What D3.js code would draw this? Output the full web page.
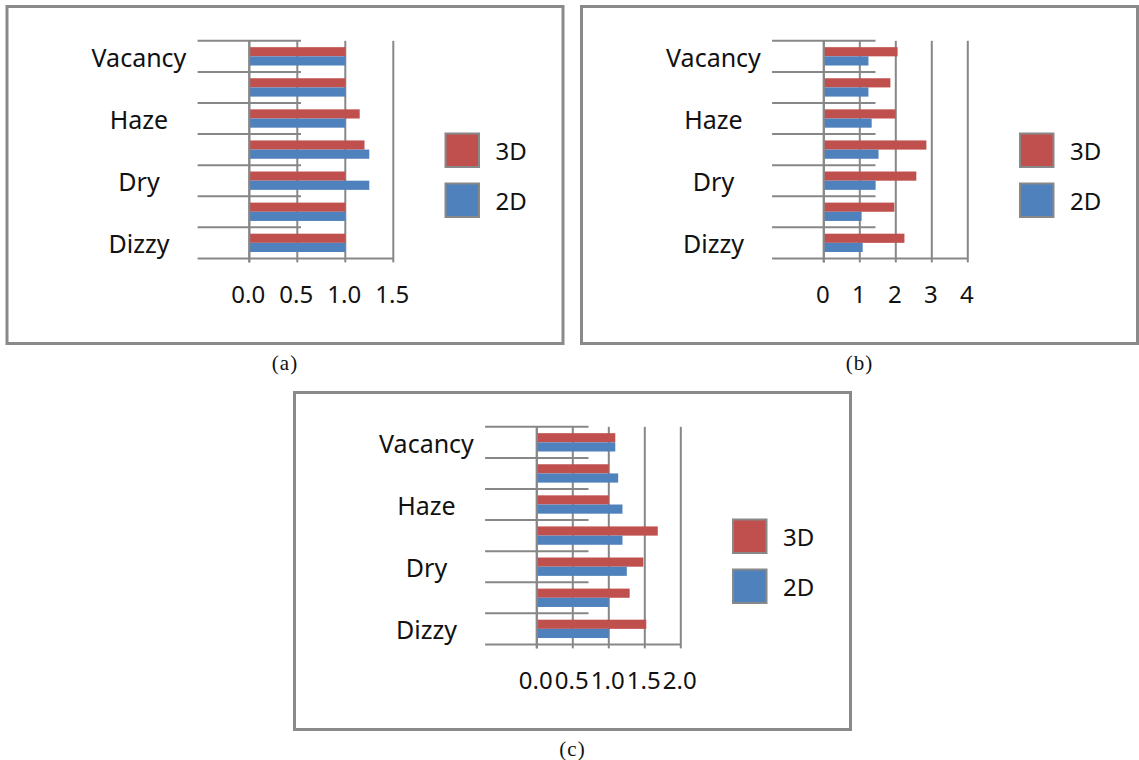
<!DOCTYPE html>
<html>
<head>
<meta charset="utf-8">
<script src="https://cdn.jsdelivr.net/npm/d3@7/dist/d3.min.js"></script>
<style>
  html, body { margin: 0; padding: 0; background: #fff; }
  svg { display: block; }
  text { font-family: "Noto Sans", "Open Sans", sans-serif; fill: #111; }
  .caption { font-family: "Liberation Serif", "DejaVu Serif", serif; }
</style>
</head>
<body>
<svg id="chart" width="1139" height="760"></svg>
<script>
// Categories listed bottom to top; only every second one carries a label
const categories = ["Dizzy", "Blur", "Dry", "Strain", "Haze", "Ache", "Vacancy"];
const seriesNames = ["3D", "2D"];
const seriesColors = ["#C0504D", "#4F81BD"];

// (a)
const a3D = [1.0, 1.0, 1.0, 1.2, 1.15, 1.0, 1.0];
const a2D = [1.0, 1.0, 1.25, 1.25, 1.0, 1.0, 1.0];
const aTicks = [0, 0.5, 1.0, 1.5];
const aTickLabels = ["0.0", "0.5", "1.0", "1.5"];

// (b)
const b3D = [2.24, 1.96, 2.57, 2.85, 1.99, 1.85, 2.05];
const b2D = [1.08, 1.05, 1.44, 1.52, 1.33, 1.24, 1.24];
const bTicks = [0, 1, 2, 3, 4];
const bTickLabels = ["0", "1", "2", "3", "4"];

// (c)
const c3D = [1.52, 1.29, 1.48, 1.68, 1.0, 1.0, 1.09];
const c2D = [1.0, 1.0, 1.25, 1.19, 1.19, 1.13, 1.09];
const cTicks = [0, 0.5, 1.0, 1.5, 2.0];
const cTickLabels = ["0.0", "0.5", "1.0", "1.5", "2.0"];

const panels = [
  { x: 7,     y: 6.5,   s3D: a3D, s2D: a2D, ticks: aTicks, tickLabels: aTickLabels, caption: "(a)" },
  { x: 581.5, y: 6.5,   s3D: b3D, s2D: b2D, ticks: bTicks, tickLabels: bTickLabels, caption: "(b)" },
  { x: 294.5, y: 392.5, s3D: c3D, s2D: c2D, ticks: cTicks, tickLabels: cTickLabels, caption: "(c)" }
];

const svg = d3.select("#chart");
const lineColor = "#878787";

// Layout of one panel, relative to its frame
const frameW = 556, frameH = 337;
const plotLeft = 242.3, plotTop = 34.3, plotW = 144, plotH = 217.6;
const tickReach = 51.7;

panels.forEach(p => {
  const g = svg.append("g").attr("transform", `translate(${p.x},${p.y})`);

  // frame
  g.append("rect")
    .attr("x", 0).attr("y", 0).attr("width", frameW).attr("height", frameH)
    .attr("fill", "#fff").attr("stroke", "#8a8a8a").attr("stroke-width", 3);

  const x = d3.scaleLinear()
    .domain([0, d3.max(p.ticks)])
    .range([plotLeft, plotLeft + plotW]);

  const y = d3.scaleBand()
    .domain(categories)
    .range([plotTop + plotH, plotTop])
    .paddingInner(0.41)
    .paddingOuter(0.205);

  const ySub = d3.scaleBand()
    .domain(seriesNames)
    .range([0, y.bandwidth()]);

  const step = y.step();
  const boundaries = d3.range(categories.length + 1).map(i => plotTop + plotH - i * step);

  // vertical value gridlines
  g.append("g").selectAll("line")
    .data(p.ticks)
    .join("line")
    .attr("x1", d => x(d)).attr("x2", d => x(d))
    .attr("y1", plotTop).attr("y2", plotTop + plotH + 4)
    .attr("stroke", lineColor).attr("stroke-width", 2);

  // category boundary tick lines
  g.append("g").selectAll("line")
    .data(boundaries.slice(1))
    .join("line")
    .attr("x1", x(0) - tickReach).attr("x2", x(0) + tickReach)
    .attr("y1", d => d).attr("y2", d => d)
    .attr("stroke", lineColor).attr("stroke-width", 2);

  // bars
  const rows = categories.map((c, i) => ({
    cat: c,
    vals: [{ s: "3D", v: p.s3D[i] }, { s: "2D", v: p.s2D[i] }]
  }));

  g.append("g").selectAll("g")
    .data(rows)
    .join("g")
    .attr("transform", d => `translate(0,${y(d.cat)})`)
    .selectAll("rect")
    .data(d => d.vals)
    .join("rect")
    .attr("x", x(0))
    .attr("y", d => ySub(d.s))
    .attr("width", d => x(d.v) - x(0))
    .attr("height", ySub.bandwidth())
    .attr("fill", d => seriesColors[seriesNames.indexOf(d.s)]);

  // value axis baseline and category axis line
  g.append("line")
    .attr("x1", x(0) - tickReach).attr("x2", x(d3.max(p.ticks)))
    .attr("y1", boundaries[0]).attr("y2", boundaries[0])
    .attr("stroke", lineColor).attr("stroke-width", 2);
  g.append("line")
    .attr("x1", x(0)).attr("x2", x(0))
    .attr("y1", plotTop).attr("y2", plotTop + plotH + 4)
    .attr("stroke", lineColor).attr("stroke-width", 2);

  // value tick labels
  g.append("g").selectAll("text")
    .data(p.ticks)
    .join("text")
    .attr("x", d => x(d) - 1)
    .attr("y", 296)
    .attr("text-anchor", "middle")
    .attr("font-size", 24)
    .text((d, i) => p.tickLabels[i]);

  // category labels (every second category), centred in the label column
  g.append("g").selectAll("text")
    .data(categories.filter((c, i) => i % 2 === 0))
    .join("text")
    .attr("x", x(0) - 110.3)
    .attr("y", d => y(d) + y.bandwidth() / 2 + 10.5)
    .attr("text-anchor", "middle")
    .attr("font-size", 25)
    .text(d => d);

  // legend
  const legend = g.append("g").selectAll("g")
    .data(seriesNames)
    .join("g")
    .attr("transform", (d, i) => `translate(438.5,${127 + i * 50})`);
  legend.append("rect")
    .attr("width", 33.5).attr("height", 33.5)
    .attr("fill", (d, i) => seriesColors[i])
    .attr("stroke", "#888").attr("stroke-width", 2);
  legend.append("text")
    .attr("x", 50).attr("y", 26)
    .attr("font-size", 24)
    .text(d => d);

  // caption
  g.append("text")
    .attr("class", "caption")
    .attr("x", frameW / 2)
    .attr("y", frameH + 26)
    .attr("text-anchor", "middle")
    .attr("font-size", 21)
    .attr("letter-spacing", 1)
    .text(p.caption);
});
</script>
</body>
</html>
